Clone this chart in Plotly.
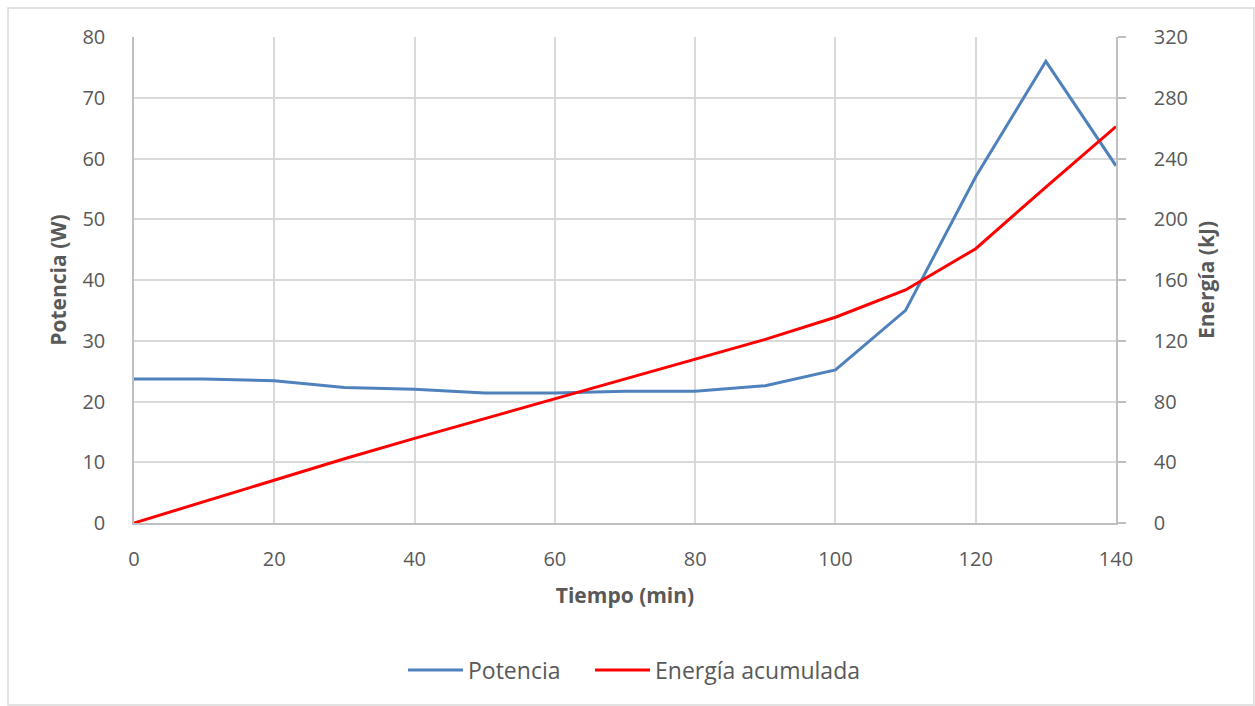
import plotly.graph_objects as go

# Tiempo (min)
tiempo = [0, 10, 20, 30, 40, 50, 60, 70, 80, 90, 100, 110, 120, 130, 140]
# Potencia (W)
potencia = [23.7, 23.7, 23.4, 22.3, 22.0, 21.4, 21.4, 21.7, 21.7, 22.6, 25.2, 35.0, 57.0, 76.0, 58.8]
# Energía acumulada (kJ)
energia = [0, 14.2, 28.4, 42.3, 55.7, 68.8, 81.6, 94.6, 107.6, 120.9, 135.5, 153.4, 180.6, 221.2, 261.0]

FONT = "Open Sans"
GRID = "#d9d9d9"
AXIS = "#bfbfbf"
TXT = "#595959"
TICK = 20
TITLE = 21

W, H = 1255, 706
L, R, T, B = 134, 139, 37, 183
PW, PH = W - L - R, H - T - B


def px_x(p):
    return (p - L) / PW


def px_y(p):
    return (H - B - p) / PH


fig = go.Figure()
fig.add_trace(go.Scatter(x=tiempo, y=potencia, name="Potencia", mode="lines",
                         line=dict(color="#4f81bd", width=3), legend="legend"))
fig.add_trace(go.Scatter(x=tiempo, y=energia, name="Energía acumulada", mode="lines",
                         line=dict(color="#ff0000", width=3), yaxis="y2", legend="legend2"))

legend_style = dict(orientation="h", yanchor="middle", xanchor="left", itemwidth=55,
                    font=dict(size=23, color=TXT), bgcolor="rgba(0,0,0,0)")

fig.update_layout(
    width=W, height=H,
    margin=dict(l=L, r=R, t=T, b=B),
    paper_bgcolor="white", plot_bgcolor="white",
    font=dict(family=FONT, color=TXT, size=TICK),
    xaxis=dict(range=[0, 140], dtick=20, showgrid=True, gridcolor=GRID, gridwidth=1.5,
               showline=True, linecolor=AXIS, linewidth=1.5, zeroline=False,
               ticks="", ticklabelstandoff=17, tickfont=dict(size=TICK, color=TXT),
               title=dict(text="<b>Tiempo (min)</b>", font=dict(size=TITLE, color=TXT), standoff=18)),
    yaxis=dict(range=[0, 80], dtick=10, showgrid=True, gridcolor=GRID, gridwidth=1.5,
               showline=True, linecolor=AXIS, linewidth=1.5, zeroline=False,
               ticks="", ticklabelstandoff=23, tickfont=dict(size=TICK, color=TXT),
               title=dict(text="<b>Potencia (W)</b>", font=dict(size=TITLE, color=TXT), standoff=10)),
    yaxis2=dict(range=[0, 320], dtick=40, overlaying="y", side="right", showgrid=False,
                showline=True, linecolor=AXIS, linewidth=1.5, zeroline=False,
                ticks="outside", ticklen=8, tickcolor=AXIS, tickwidth=1.5,
                ticklabelstandoff=24, tickfont=dict(size=TICK, color=TXT),
                title=dict(text="<b>Energía (kJ)</b>", font=dict(size=TITLE, color=TXT), standoff=12)),
    legend=dict(x=px_x(403), y=px_y(670), **legend_style),
    legend2=dict(x=px_x(590), y=px_y(670), **legend_style),
    showlegend=True,
    shapes=[dict(type="rect", xref="paper", yref="paper",
                 x0=px_x(8), x1=px_x(1254), y0=px_y(705), y1=px_y(8),
                 line=dict(color="#d9d9d9", width=1.5), fillcolor="rgba(0,0,0,0)", layer="below")],
)

fig.write_html("out.html")
